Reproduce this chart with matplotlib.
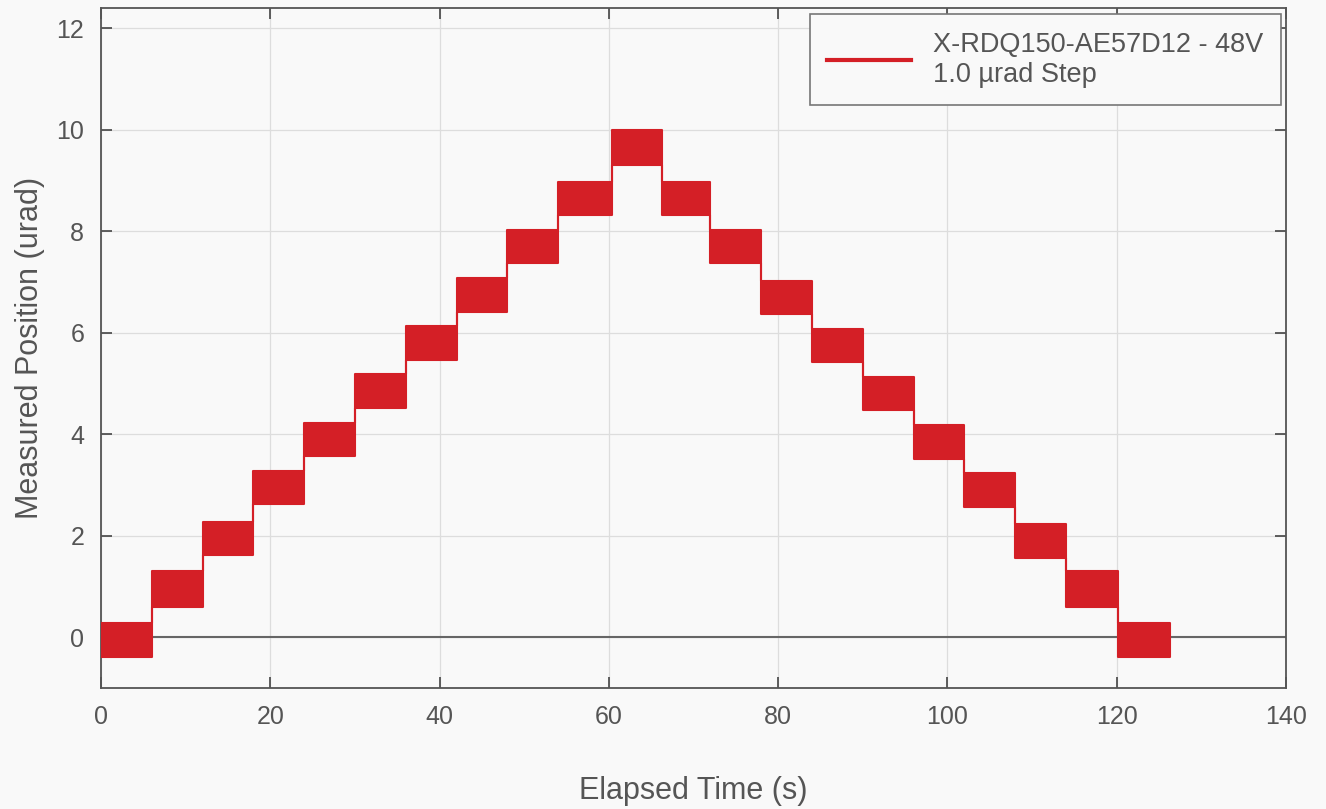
import matplotlib.pyplot as plt

# step test: time edges (s), mean level per step (urad), noise half-range per step (urad)
step_edges = [0, 6, 12, 18, 24, 30, 36, 42, 48, 54, 60.4, 66.3, 72, 78, 84, 90,
              96, 102, 108, 114, 120.2, 126.3]
step_level = [-0.05, 0.95, 1.95, 2.95, 3.9, 4.85, 5.8, 6.75, 7.7, 8.65, 9.65,
              8.65, 7.7, 6.7, 5.75, 4.8, 3.85, 2.9, 1.9, 0.95, -0.05]
step_noise = [0.34, 0.35, 0.33, 0.33, 0.33, 0.33, 0.33, 0.33, 0.33, 0.33, 0.35,
              0.33, 0.33, 0.33, 0.33, 0.33, 0.33, 0.33, 0.33, 0.35, 0.34]

red = '#d41f26'
grey = '#555555'

plt.rcParams['font.family'] = ['Liberation Sans', 'DejaVu Sans']

fig = plt.figure(figsize=(13.26, 8.09), dpi=100, facecolor='#f9f9f9')
ax = fig.add_axes([0.0762, 0.1496, 0.8936, 0.8404], facecolor='#f9f9f9')

upper = [m + n for m, n in zip(step_level, step_noise)]
lower = [m - n for m, n in zip(step_level, step_noise)]
upper.append(upper[-1])
lower.append(lower[-1])
ax.fill_between(step_edges, lower, upper, step='post', color=red, lw=1.5,
                edgecolor=red, zorder=3)
ax.plot([], [], color=red, lw=3, label='X-RDQ150-AE57D12 - 48V\n1.0 µrad Step')

ax.axhline(0, color='#666666', lw=1.5, zorder=2)

ax.set_xlim(0, 140)
ax.set_ylim(-1, 12.4)
ax.set_xticks(range(0, 141, 20))
ax.set_yticks(range(0, 13, 2))
ax.grid(True, color='#dddddd', lw=0.9, zorder=0)
ax.set_axisbelow(True)

ax.tick_params(direction='in', length=8, width=1.2, colors='#444444',
               labelcolor=grey, labelsize=18, top=True, right=True, pad=12)
for s in ax.spines.values():
    s.set_color('#555555')
    s.set_linewidth(1.3)

ax.set_xlabel('Elapsed Time (s)', fontsize=22, color=grey, labelpad=34)
ax.set_ylabel('Measured Position (urad)', fontsize=22, color=grey, labelpad=8)

leg = ax.legend(loc='upper right', fontsize=19.5, fancybox=False, framealpha=1,
                facecolor='#f9f9f9', edgecolor='#777777', handlelength=3.1,
                borderpad=0.65, labelspacing=0.2, bbox_to_anchor=(1.007, 1.011))
leg.get_frame().set_linewidth(1.2)
for t in leg.get_texts():
    t.set_color(grey)

fig.savefig('out.png', dpi=100, facecolor=fig.get_facecolor())
